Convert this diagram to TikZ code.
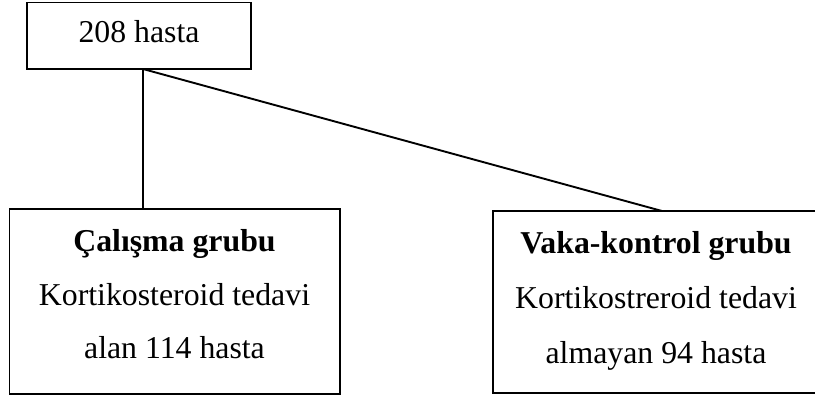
\documentclass[tikz,border=0pt]{standalone}
\usepackage{fontspec}
\setmainfont{Liberation Serif}
\begin{document}
\begin{tikzpicture}[x=1pt,y=-1pt,
  box/.style={draw, line width=1.8pt, rectangle, inner sep=0pt},
  txt/.style={anchor=base, inner sep=0pt, font=\fontsize{31.8}{38}\selectfont},
  conn/.style={line width=1.9pt}]
\useasboundingbox (0,0) rectangle (815,399);
\node[box, minimum width=224pt, minimum height=66.5pt] (top) at (139,35.75) {};
\node[box, minimum width=330.5pt, minimum height=185pt] (left) at (174.75,301.5) {};
\node[box, minimum width=347pt, minimum height=182pt] (right) at (666.5,302) {};
\node[txt] (t0) at (139,42) {208 hasta};
\node[txt] (l1) at (174.5,251) {\textbf{Çalışma grubu}};
\node[txt] (l2) at (174.5,305) {Kortikosteroid tedavi};
\node[txt] (l3) at (174.5,358) {alan 114 hasta};
\node[txt] (r1) at (656,253) {\textbf{Vaka-kontrol grubu}};
\node[txt] (r2) at (656,308) {Kortikostreroid tedavi};
\node[txt] (r3) at (656,363) {almayan 94 hasta};
\coordinate (j) at (143,69);
\coordinate (rt) at (662,211);
\draw[conn] (j) -- (j |- left.north);
\draw[conn] (j) -- (rt);
\end{tikzpicture}
\end{document}
